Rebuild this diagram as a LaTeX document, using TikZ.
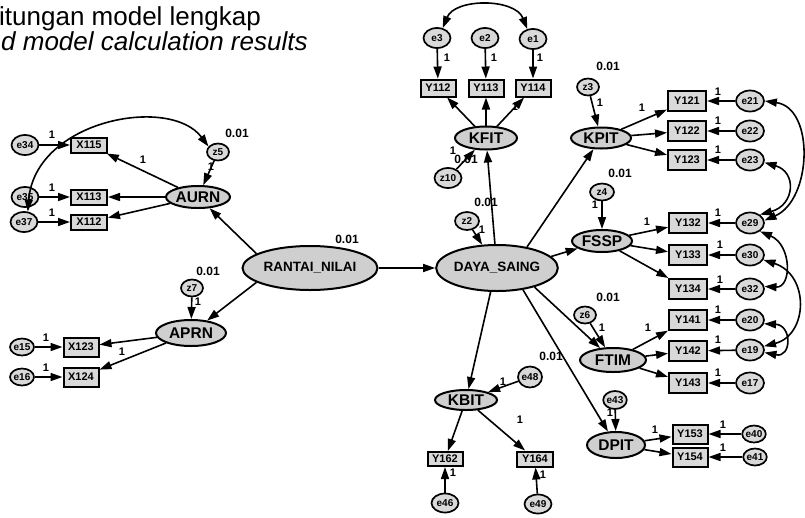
\documentclass[tikz,border=0pt]{standalone}
\usepackage{fontspec}
\setmainfont{Liberation Sans}
\usetikzlibrary{arrows.meta,shapes.geometric}

\begin{document}
\begin{tikzpicture}[x=1pt,y=-1pt,
  lat/.style={ellipse, draw, fill=black!19, line width=2pt, inner sep=0pt,
    font=\fontsize{15.5}{16}\selectfont\bfseries},
  biglat/.style={lat, font=\fontsize{13.5}{14}\selectfont\bfseries},
  obs/.style={rectangle, draw, fill=black!15, line width=2pt, inner sep=0pt,
    minimum width=36pt, minimum height=17pt, font=\fontsize{11}{12}\selectfont\bfseries},
  err/.style={ellipse, draw, fill=black!15, line width=1.7pt, inner sep=0pt,
    minimum width=27pt, minimum height=20pt, font=\fontsize{10}{11}\selectfont\bfseries},
  dist/.style={err, minimum width=22pt, minimum height=17pt},
  fixlbl/.style={font=\fontsize{11}{12}\selectfont\bfseries, inner sep=0pt},
  varlbl/.style={font=\fontsize{12}{13}\selectfont\bfseries, inner sep=0pt},
  reg/.style={line width=1.6pt, -{Triangle[length=12pt,width=8pt]}},
  cov/.style={line width=1.6pt, {Triangle[length=12pt,width=8pt]}-{Triangle[length=12pt,width=8pt]}},
]
\useasboundingbox (0,0) rectangle (805,517);
\clip (0,0) rectangle (805,517);

% caption lines
\node[anchor=base west, inner sep=0pt, font=\fontsize{26}{28}\selectfont] (t1) at (-1,25) {itungan model lengkap};
\node[anchor=base west, inner sep=0pt, font=\fontsize{26}{28}\selectfont\itshape] (t2) at (1,50) {d model calculation results};

% ---- AURN block
\node[err] (e34) at (25,145) {e34};
\node[err] (e35) at (25,197) {e35};
\node[err] (e37) at (24,222) {e37};
\node[obs, minimum height=15pt] (X115) at (89,145) {X115};
\node[obs, minimum height=15pt] (X113) at (89,197) {X113};
\node[obs, minimum height=15pt] (X112) at (89,222) {X112};
\node[dist] (z5) at (218,152) {z5};
\node[lat, minimum width=64pt, minimum height=22pt] (AURN) at (198,197) {AURN};

% ---- APRN block
\node[dist] (z7) at (192,288) {z7};
\node[lat, minimum width=70pt, minimum height=26pt] (APRN) at (191,333) {APRN};
\node[obs, minimum width=35pt, minimum height=19pt] (X123) at (81,347) {X123};
\node[obs, minimum width=35pt, minimum height=19pt] (X124) at (81,377) {X124};
\node[err, minimum width=24pt, minimum height=17pt] (e15) at (22,347) {e15};
\node[err, minimum width=24pt, minimum height=17pt] (e16) at (22,377) {e16};

% ---- structural core
\node[biglat, minimum width=135pt, minimum height=44pt] (RN) at (310,268) {RANTAI\_NILAI};
\node[biglat, minimum width=100pt, minimum height=46pt] (DS) at (497,268) {DAYA\_SAING};
\node[dist, minimum width=24pt, minimum height=18pt] (z2) at (467,221) {z2};

% ---- KFIT block
\node[err] (e3) at (437,38) {e3};
\node[err] (e2) at (485,38) {e2};
\node[err] (e1) at (533,39) {e1};
\node[obs, minimum width=35pt] (Y112) at (438,88) {Y112};
\node[obs, minimum width=35pt] (Y113) at (486,88) {Y113};
\node[obs, minimum width=35pt] (Y114) at (533,88) {Y114};
\node[lat, minimum width=62pt, minimum height=23pt] (KFIT) at (486,138) {KFIT};
\node[err] (z10) at (448,178) {z10};

% ---- KPIT block
\node[dist] (z3) at (588,87) {z3};
\node[lat, minimum width=60pt, minimum height=21pt] (KPIT) at (601,138) {KPIT};
\node[obs, minimum width=38pt, minimum height=20pt] (Y121) at (687,101) {Y121};
\node[obs, minimum width=38pt, minimum height=20pt] (Y122) at (687,131) {Y122};
\node[obs, minimum width=38pt, minimum height=20pt] (Y123) at (687,160) {Y123};
\node[err, minimum width=28pt, minimum height=21pt] (e21) at (750,101) {e21};
\node[err, minimum width=28pt, minimum height=21pt] (e22) at (750,131) {e22};
\node[err, minimum width=28pt, minimum height=21pt] (e23) at (750,160) {e23};

% ---- FSSP block
\node[dist, minimum width=24pt] (z4) at (602,192) {z4};
\node[lat, minimum width=60pt, minimum height=22pt] (FSSP) at (602,241) {FSSP};
\node[obs, minimum width=38pt, minimum height=20pt] (Y132) at (688,223) {Y132};
\node[obs, minimum width=38pt, minimum height=20pt] (Y133) at (688,255) {Y133};
\node[obs, minimum width=38pt, minimum height=20pt] (Y134) at (688,289) {Y134};
\node[err, minimum width=28pt, minimum height=21pt] (e29) at (750,223) {e29};
\node[err, minimum width=28pt, minimum height=21pt] (e30) at (750,255) {e30};
\node[err, minimum width=28pt, minimum height=21pt] (e32) at (750,289) {e32};

% ---- FTIM block
\node[dist] (z6) at (585,315) {z6};
\node[lat, minimum width=66pt, minimum height=24pt] (FTIM) at (613,360) {FTIM};
\node[obs, minimum width=38pt, minimum height=20pt] (Y141) at (688,320) {Y141};
\node[obs, minimum width=38pt, minimum height=20pt] (Y142) at (688,351) {Y142};
\node[obs, minimum width=38pt, minimum height=20pt] (Y143) at (688,383) {Y143};
\node[err, minimum width=28pt, minimum height=21pt] (e20) at (750,320) {e20};
\node[err, minimum width=28pt, minimum height=21pt] (e19) at (750,350) {e19};
\node[err, minimum width=28pt, minimum height=21pt] (e17) at (750,383) {e17};

% ---- DPIT block
\node[dist, minimum height=18pt] (e43) at (615,400) {e43};
\node[lat, minimum width=58pt, minimum height=26pt] (DPIT) at (616,445) {DPIT};
\node[obs, minimum width=35pt, minimum height=19pt] (Y153) at (690,434) {Y153};
\node[obs, minimum width=35pt, minimum height=19pt] (Y154) at (690,457) {Y154};
\node[err, minimum width=23pt, minimum height=17pt] (e40) at (754,434) {e40};
\node[err, minimum width=23pt, minimum height=17pt] (e41) at (755,457) {e41};

% ---- KBIT block
\node[lat, minimum width=62pt, minimum height=20pt] (KBIT) at (466,400) {KBIT};
\node[err, minimum width=24pt, minimum height=21pt] (e48) at (530,377) {e48};
\node[obs, minimum width=35pt, minimum height=14pt] (Y162) at (445,459) {Y162};
\node[obs, minimum width=36pt, minimum height=15pt] (Y164) at (535,459) {Y164};
\node[err, minimum height=19pt] (e46) at (445,503) {e46};
\node[err, minimum height=19pt] (e49) at (538,504) {e49};

% ---- variance labels
\node[varlbl] (v5) at (237,133) {0.01};
\node[varlbl] (v7) at (208,271) {0.01};
\node[varlbl] (vrn) at (347,239) {0.01};
\node[varlbl] (vds) at (486,202) {0.01};
\node[varlbl] (vkf) at (466,159) {0.01};
\node[varlbl] (vkp) at (608,66) {0.01};
\node[varlbl] (vfs) at (620,173) {0.01};
\node[varlbl] (vft) at (608,297) {0.01};
\node[varlbl] (vkb) at (551,356) {0.01};

% ---- fixed loading labels
\foreach \p in {(52,135),(52,188),(52,213),(143,160),(211,167),
                (46,338),(46,368),(122,352),(198,302),
                (447,58),(494,58),(540,58),(515,107),(453,151),(482,230),
                (600,103),(642,108),(718,92),(718,121),(718,150),
                (595,205),(647,222),(718,213),(720,245),(720,280),
                (602,328),(648,328),(718,310),(718,340),(718,373),
                (610,413),(655,430),(723,425),(723,448),
                (503,382),(520,420),(453,473),(543,475)}
  \node[fixlbl] at \p {1};

% ---- regression paths
\draw[reg] (e34) -- (X115);
\draw[reg] (e35) -- (X113);
\draw[reg] (e37) -- (X112);
\draw[reg] (AURN) -- (X115);
\draw[reg] (AURN) -- (X113);
\draw[reg] (AURN) -- (X112);
\draw[reg] (z5) -- (AURN);
\draw[reg] (RN.165) -- (AURN);
\draw[reg] (RN.195) -- (APRN);
\draw[reg] (z7) -- (APRN);
\draw[reg] (APRN) -- (X123);
\draw[reg] (APRN) -- (X124);
\draw[reg] (e15) -- (X123);
\draw[reg] (e16) -- (X124);
\draw[reg] (RN) -- (DS);
\draw[reg] (z2) -- (DS);

\draw[reg] (DS.95) -- (KFIT);
\draw[reg] (DS.35) -- (KPIT);
\draw[reg] (DS.12) -- (FSSP);
\draw[reg] (DS.-27) -- (FTIM);
\draw[reg] (DS.-40) -- (DPIT);
\draw[reg] (DS.-105) -- (KBIT);

\draw[reg] (e3) -- (Y112);
\draw[reg] (e2) -- (Y113);
\draw[reg] (e1) -- (Y114);
\draw[reg] (KFIT) -- (Y112);
\draw[reg] (KFIT) -- (Y113);
\draw[reg] (KFIT) -- (Y114);
\draw[reg] (z10) -- (KFIT);

\draw[reg] (z3) -- (KPIT);
\draw[reg] (KPIT) -- (Y121);
\draw[reg] (KPIT) -- (Y122);
\draw[reg] (KPIT) -- (Y123);
\draw[reg] (e21) -- (Y121);
\draw[reg] (e22) -- (Y122);
\draw[reg] (e23) -- (Y123);

\draw[reg] (z4) -- (FSSP);
\draw[reg] (FSSP) -- (Y132);
\draw[reg] (FSSP) -- (Y133);
\draw[reg] (FSSP) -- (Y134);
\draw[reg] (e29) -- (Y132);
\draw[reg] (e30) -- (Y133);
\draw[reg] (e32) -- (Y134);

\draw[reg] (z6) -- (FTIM);
\draw[reg] (FTIM) -- (Y141);
\draw[reg] (FTIM) -- (Y142);
\draw[reg] (FTIM) -- (Y143);
\draw[reg] (e20) -- (Y141);
\draw[reg] (e19) -- (Y142);
\draw[reg] (e17) -- (Y143);

\draw[reg] (e43) -- (DPIT);
\draw[reg] (DPIT) -- (Y153);
\draw[reg] (DPIT) -- (Y154);
\draw[reg] (e40) -- (Y153);
\draw[reg] (e41) -- (Y154);

\draw[reg] (e48) -- (KBIT);
\draw[reg] (KBIT) -- (Y162);
\draw[reg] (KBIT) -- (Y164);
\draw[reg] (e46) -- (Y162);
\draw[reg] (e49) -- (Y164);

% ---- covariances
\draw[cov] (e37.70) .. controls (35,120) and (170,95) .. (z5.150);
\draw[cov] (e3.60) .. controls (455,-2) and (515,-2) .. (e1.120);
\draw[cov] (e21.east) .. controls (815,108) and (812,200) .. (e29.10);
\draw[cov] (e23.-10) .. controls (797,172) and (795,205) .. (e29.40);
\draw[cov] (e29.-40) .. controls (792,245) and (792,288) .. (e32.10);
\draw[cov] (e30.-20) .. controls (810,275) and (808,335) .. (e19.15);
\draw[cov] (e20.-15) .. controls (792,325) and (792,358) .. (e19.-10);
\end{tikzpicture}
\end{document}
